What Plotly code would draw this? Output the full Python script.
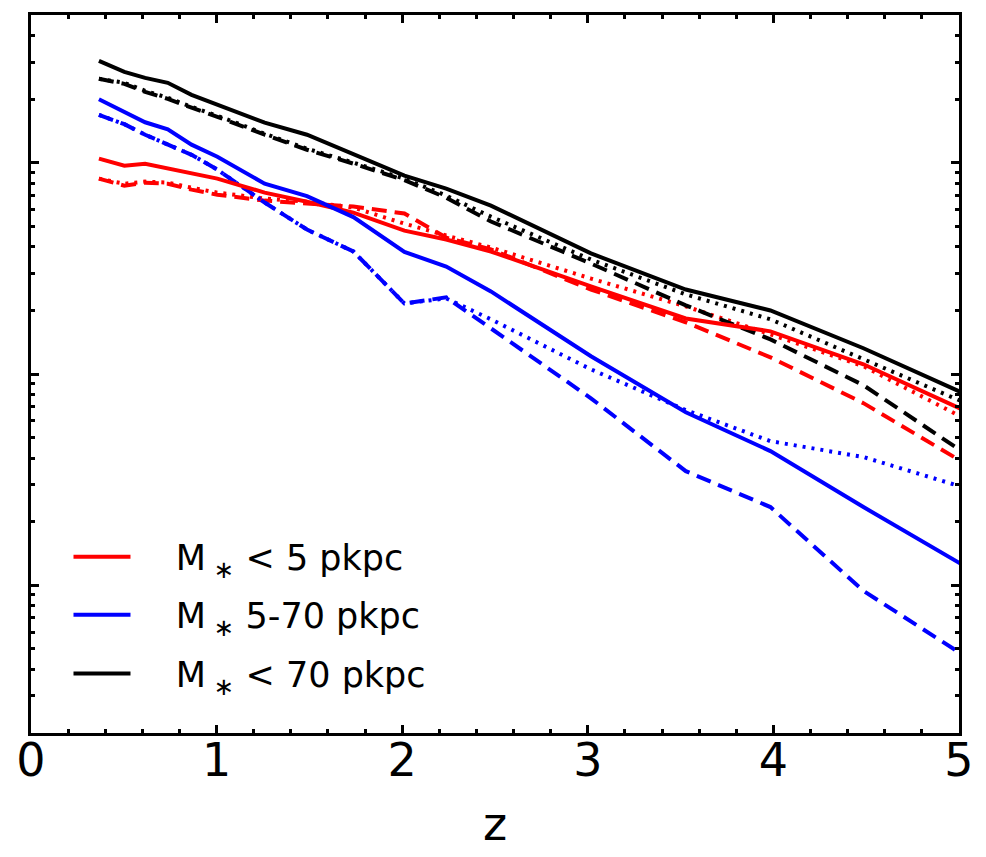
import numpy as np
import plotly.graph_objects as go

# Redshift of each snapshot
z = [0.366, 0.503, 0.615, 0.737, 0.865, 1.004, 1.259, 1.487, 1.737,
     2.012, 2.237, 2.478, 3.017, 3.528, 3.984, 4.485, 5.037]

# log10 of the plotted quantity (arbitrary units; y axis carries no labels)
red_solid_log = [2.020, 1.986, 1.996, 1.975, 1.949, 1.925, 1.859, 1.816, 1.764,
                 1.679, 1.637, 1.580, 1.415, 1.263, 1.202, 1.046, 0.824]
red_dashed_log = [1.925, 1.892, 1.906, 1.901, 1.873, 1.849, 1.821, 1.807, 1.793,
                  1.760, 1.646, 1.590, 1.400, 1.245, 1.079, 0.862, 0.574]
red_dotted_log = [1.925, 1.901, 1.911, 1.906, 1.882, 1.859, 1.831, 1.816, 1.788,
                  1.712, 1.656, 1.599, 1.452, 1.320, 1.188, 1.037, 0.786]

blue_solid_log = [2.301, 2.242, 2.192, 2.159, 2.086, 2.029, 1.901, 1.842, 1.743,
                  1.578, 1.509, 1.391, 1.084, 0.819, 0.635, 0.370, 0.087]
blue_dashed_log = [2.227, 2.183, 2.133, 2.086, 2.038, 1.968, 1.812, 1.684, 1.580,
                   1.334, 1.363, 1.216, 0.885, 0.540, 0.370, -0.027, -0.339]
blue_dotted_log = [2.227, 2.183, 2.133, 2.086, 2.038, 1.968, 1.812, 1.684, 1.580,
                   1.334, 1.358, 1.259, 1.022, 0.829, 0.682, 0.607, 0.460]

black_solid_log = [2.483, 2.431, 2.402, 2.379, 2.322, 2.275, 2.190, 2.133, 2.043,
                   1.939, 1.878, 1.797, 1.571, 1.400, 1.301, 1.122, 0.904]
black_dashed_log = [2.398, 2.374, 2.336, 2.303, 2.261, 2.218, 2.133, 2.062, 1.996,
                    1.918, 1.835, 1.722, 1.523, 1.325, 1.164, 0.947, 0.621]
black_dotted_log = [2.398, 2.379, 2.341, 2.308, 2.265, 2.223, 2.138, 2.067, 2.001,
                    1.925, 1.845, 1.745, 1.542, 1.377, 1.259, 1.070, 0.862]

legend_names = ["M<sub>&nbsp;∗</sub> &lt; 5 pkpc", "M<sub>&nbsp;∗</sub> 5-70 pkpc",
                "M<sub>&nbsp;∗</sub> &lt; 70 pkpc"]
x_ticks = [0, 1, 2, 3, 4, 5]

FONT = "DejaVu Sans"
LW = 4
DASH = "15px,8px"
DOT = "3px,6px"

fig = go.Figure()

groups = [
    ("red", red_solid_log, red_dashed_log, red_dotted_log, legend_names[0], "legend"),
    ("blue", blue_solid_log, blue_dashed_log, blue_dotted_log, legend_names[1], "legend2"),
    ("black", black_solid_log, black_dashed_log, black_dotted_log, legend_names[2], "legend3"),
]

for color, solid, dashed, dotted, name, leg in groups:
    fig.add_trace(go.Scatter(x=z, y=np.power(10.0, dashed), mode="lines",
                             line=dict(color=color, width=LW, dash=DASH),
                             showlegend=False, hoverinfo="skip"))
    fig.add_trace(go.Scatter(x=z, y=np.power(10.0, dotted), mode="lines",
                             line=dict(color=color, width=LW, dash=DOT),
                             showlegend=False, hoverinfo="skip"))
for color, solid, dashed, dotted, name, leg in groups:
    fig.add_trace(go.Scatter(x=z, y=np.power(10.0, solid), mode="lines",
                             line=dict(color=color, width=LW),
                             name="&nbsp;&nbsp;&nbsp;\u2009" + name, legend=leg, showlegend=True))

legend_common = dict(font=dict(family=FONT, size=35, color="black"),
                     bgcolor="rgba(0,0,0,0)", borderwidth=0, itemwidth=57,
                     xanchor="left", yanchor="middle", x=0.0404)

fig.update_layout(
    width=986, height=857,
    margin=dict(l=31, r=26, t=13, b=124, pad=0),
    paper_bgcolor="white", plot_bgcolor="white",
    font=dict(family=FONT, color="black"),
    legend=dict(y=0.2451, **legend_common),
    legend2=dict(y=0.1645, **legend_common),
    legend3=dict(y=0.0825, **legend_common),
    xaxis=dict(range=[0, 5], tickvals=x_ticks, ticktext=[str(v) for v in x_ticks],
               ticks="inside", ticklen=8, tickwidth=2.5, tickcolor="black",
               showline=True, linewidth=3, linecolor="black", mirror="ticks",
               showgrid=False, zeroline=False, ticklabelstandoff=-15,
               tickfont=dict(family=FONT, size=46, color="black"),
               minor=dict(ticks="inside", ticklen=4, tickwidth=2.5, tickcolor="black",
                          dtick=0.2, tick0=0, showgrid=False),
               title=dict(text="z", font=dict(family=FONT, size=46, color="black"), standoff=22)),
    yaxis=dict(type="log", range=[-0.7, 2.7], dtick=1, tick0=0,
               ticks="inside", ticklen=8, tickwidth=2.5, tickcolor="black",
               showline=True, linewidth=3, linecolor="black", mirror="ticks",
               showgrid=False, zeroline=False, showticklabels=False,
               minor=dict(ticks="inside", ticklen=4, tickwidth=2.5, tickcolor="black",
                          dtick="D1", showgrid=False)),
)

fig.write_html("out.html")
